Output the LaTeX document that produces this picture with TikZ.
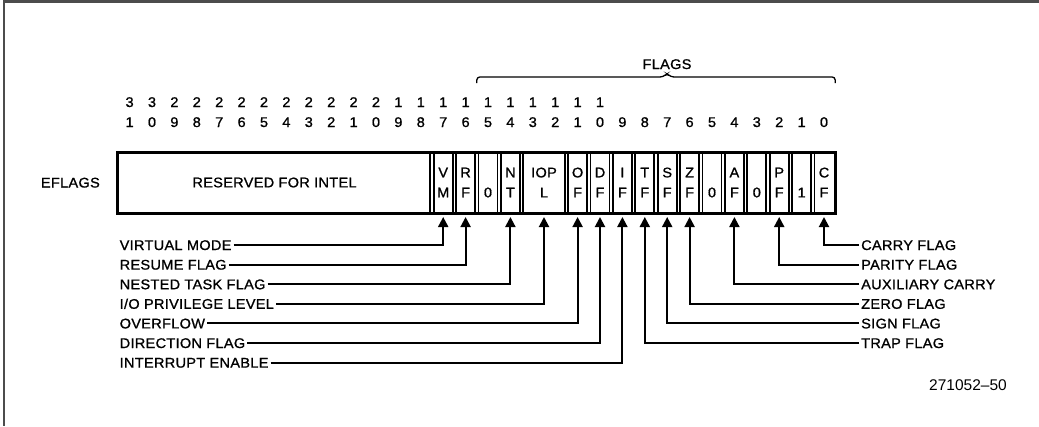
\documentclass[tikz,border=0pt]{standalone}
\usepackage{fontspec}
\setmainfont{Liberation Sans}
\newfontfamily\cadfont[FakeStretch=1.04, LetterSpace=2, FakeBold=1]{Liberation Sans}
\usetikzlibrary{arrows.meta}

\tikzset{
  lbl/.style={font=\cadfont\fontsize{14}{20}\selectfont, inner xsep=2pt, inner ysep=0pt, text height=10pt, text depth=0pt},
  field/.style={font=\cadfont\fontsize{14}{20}\selectfont, align=center, inner sep=0pt, outer sep=0pt, minimum height=61pt},
  conn/.style={line width=2pt, -{Triangle[length=10pt,width=10pt]}, shorten >=4pt},
  sep/.style={double, line width=1.7pt, double distance=1.7pt},
}

\begin{document}
\begin{tikzpicture}[x=1pt,y=-1pt]
	\useasboundingbox (0,0) rectangle (1039,426);
	% frame of the page
	\draw[gray!60!black, line width=2.5pt] (4,1.25) -- (1039,1.25);
	\draw[gray!60!black, line width=1.5pt] (4,0) -- (4,426);

	% bit numbers
	\foreach \k in {0,...,31} {
		\pgfmathtruncatemacro\units{mod(\k,10)}
		\pgfmathtruncatemacro\tens{div(\k,10)}
		\node[lbl] (u\k) at (824-22.4*\k,122) {\units};
		\ifnum\k>9 \node[lbl] (t\k) at (824-22.4*\k,102) {\tens}; \fi
	}

	% brace over the flags
	\node[lbl] (flags) at (667,64) {FLAGS};
	\draw[line width=1.3pt, rounded corners=3pt] (476.8,83) -- (476.8,77) -- (663,77) -- (667,73.5) -- (671,77) -- (835.2,77) -- (835.2,83);

	% the register
	\node[lbl, anchor=east] (eflags) at (102,182.5) {EFLAGS};
	\foreach \x in {432,454.4,476.8,499.2,521.6,566.4,588.8,611.2,633.6,656,678.4,700.8,723.2,745.6,768,790.4,812.8}
		\draw[sep] (\x,152) -- (\x,213);
	\draw[line width=3pt] (117,152) rectangle (835.2,213);

	\node[field] (res) at (274.5,182.5) {RESERVED FOR INTEL};
	\node[field] (vm) at (443.2,182.5) {V\\M};
	\node[field] (rf) at (465.6,182.5) {R\\F};
	\node[field] (b15) at (488,182.5) {\phantom{0}\\0};
	\node[field] (nt) at (510.4,182.5) {N\\T};
	\node[field] (iopl) at (544,182.5) {IOP\\L};
	\node[field] (of) at (577.6,182.5) {O\\F};
	\node[field] (df) at (600,182.5) {D\\F};
	\node[field] (if) at (622.4,182.5) {I\\F};
	\node[field] (tf) at (644.8,182.5) {T\\F};
	\node[field] (sf) at (667.2,182.5) {S\\F};
	\node[field] (zf) at (689.6,182.5) {Z\\F};
	\node[field] (b5) at (712,182.5) {\phantom{0}\\0};
	\node[field] (af) at (734.4,182.5) {A\\F};
	\node[field] (b3) at (756.8,182.5) {\phantom{0}\\0};
	\node[field] (pf) at (779.2,182.5) {P\\F};
	\node[field] (b1) at (801.6,182.5) {\phantom{0}\\1};
	\node[field] (cf) at (824,182.5) {C\\F};

	% names on the left
	\node[lbl, anchor=west] (lvm) at (117.5,245) {VIRTUAL MODE};
	\node[lbl, anchor=west] (lrf) at (117.5,264.6) {RESUME FLAG};
	\node[lbl, anchor=west] (lnt) at (117.5,284.2) {NESTED TASK FLAG};
	\node[lbl, anchor=west] (liopl) at (117.5,303.8) {I/O PRIVILEGE LEVEL};
	\node[lbl, anchor=west] (lof) at (117.5,323.4) {OVERFLOW};
	\node[lbl, anchor=west] (ldf) at (117.5,343) {DIRECTION FLAG};
	\node[lbl, anchor=west] (lif) at (117.5,362.6) {INTERRUPT ENABLE};

	% names on the right
	\node[lbl, anchor=west] (lcf) at (859,245) {CARRY FLAG};
	\node[lbl, anchor=west] (lpf) at (859,264.6) {PARITY FLAG};
	\node[lbl, anchor=west] (laf) at (859,284.2) {AUXILIARY CARRY};
	\node[lbl, anchor=west] (lzf) at (859,303.8) {ZERO FLAG};
	\node[lbl, anchor=west] (lsf) at (859,323.4) {SIGN FLAG};
	\node[lbl, anchor=west] (ltf) at (859,343) {TRAP FLAG};

	\draw[conn] (lvm.east) -| (vm.south);
	\draw[conn] (lrf.east) -| (rf.south);
	\draw[conn] (lnt.east) -| (nt.south);
	\draw[conn] (liopl.east) -| (iopl.south);
	\draw[conn] (lof.east) -| (of.south);
	\draw[conn] (ldf.east) -| (df.south);
	\draw[conn] (lif.east) -| (if.south);
	\draw[conn] (lcf.west) -| (cf.south);
	\draw[conn] (lpf.west) -| (pf.south);
	\draw[conn] (laf.west) -| (af.south);
	\draw[conn] (lzf.west) -| (zf.south);
	\draw[conn] (lsf.west) -| (sf.south);
	\draw[conn] (ltf.west) -| (tf.south);

	\node[font=\fontsize{15.5}{18}\selectfont, anchor=east, inner sep=0pt] (figno) at (1007,385) {271052–50};
\end{tikzpicture}
\end{document}
